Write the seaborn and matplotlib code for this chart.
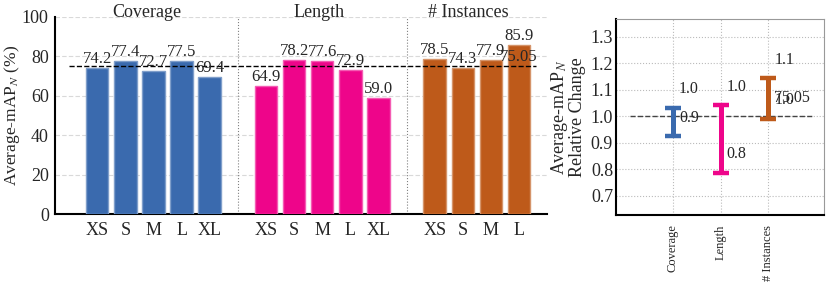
import numpy as np
import pandas as pd
import matplotlib
matplotlib.use("Agg")
import matplotlib.pyplot as plt
import matplotlib.colors as mcolors
import seaborn as sns

# values
groups = ["Coverage", "Length", "# Instances"]
coverage_sizes = ["XS", "S", "M", "L", "XL"]
coverage_vals = [74.2, 77.4, 72.7, 77.5, 69.4]
length_sizes = ["XS", "S", "M", "L", "XL"]
length_vals = [64.9, 78.2, 77.6, 72.9, 59.0]
instance_sizes = ["XS", "S", "M", "L"]
instance_vals = [78.5, 74.3, 77.9, 85.9]
baseline = 75.05

colors = {"Coverage": "#3a6aae", "Length": "#ee058a", "# Instances": "#be5a1a"}


def apply_plot_style():
    sns.set_style("white")
    plt.rcParams['font.family'] = ['Liberation Serif', 'DejaVu Serif']
    plt.rcParams['mathtext.fontset'] = 'stix'
    plt.rcParams['axes.unicode_minus'] = False


def build_frame():
    rows = []
    pos = 0
    for name, sizes, vals in [("Coverage", coverage_sizes, coverage_vals),
                              ("Length", length_sizes, length_vals),
                              ("# Instances", instance_sizes, instance_vals)]:
        for s, v in zip(sizes, vals):
            rows.append({"pos": pos, "size": s, "value": v, "group": name})
            pos += 1
        pos += 1  # gap between groups
    return pd.DataFrame(rows)


def lighten(c, amt=0.35):
    r, g, b = mcolors.to_rgb(c)
    return (r + (1 - r) * amt, g + (1 - g) * amt, b + (1 - b) * amt)


apply_plot_style()
df = build_frame()

fig = plt.figure(figsize=(8.3, 2.82), dpi=100)
ax = fig.add_axes([0.0663, 0.241, 0.593, 0.699])
ax2 = fig.add_axes([0.742, 0.238, 0.251, 0.695])

# ---- left: bars per group ----
sns.barplot(data=df, x="pos", y="value", hue="group", palette=colors,
            native_scale=True, dodge=False, legend=False, saturation=1,
            ax=ax, zorder=3)
for p in ax.patches:
    p.set_edgecolor(lighten(p.get_facecolor()))
    p.set_linewidth(1.0)

for _, r in df.iterrows():
    ax.text(r["pos"], r["value"] + 0.5, f"{r['value']:.1f}", ha="center",
            va="bottom", fontsize=12, zorder=5)

ax.hlines(baseline, -1.0, 15.6, colors="black", linestyles="--", lw=1.0, zorder=4)
ax.text(df["pos"].max(), baseline + 0.8, f"{baseline}", ha="center",
        va="bottom", fontsize=12, zorder=5)

# group separators and titles
group_pos = df.groupby("group", sort=False)["pos"]
seps = [group_pos.max().iloc[0] + 1, group_pos.max().iloc[1] + 1]
for s in seps:
    ax.axvline(s, color="gray", ls=":", lw=0.8, zorder=1)
title_x = [1.75, 7.9, 13.2]
for name, tx in zip(groups, title_x):
    ax.text(tx, 98, name, ha="center", va="bottom", fontsize=13, clip_on=False)

ax.set_xlim(-1.5, 16)
ax.set_ylim(0, 100)
ax.set_yticks([0, 20, 40, 60, 80, 100])
ax.yaxis.grid(True, color="#d9d9d9", ls=(0, (4, 2)), lw=0.8, zorder=0)
ax.set_axisbelow(True)
ax.set_xticks(df["pos"])
ax.set_xticklabels(df["size"])
ax.tick_params(axis="x", length=0, labelsize=13, pad=6)
ax.tick_params(axis="y", direction="out", length=3.5, width=1, labelsize=13, pad=1)
ax.set_xlabel("")
ax.set_ylabel(r"Average-mAP$_N$ (%)", fontsize=12.5)
ax.yaxis.set_label_coords(-0.068, 0.5)
for side in ["top", "right"]:
    ax.spines[side].set_visible(False)
for side in ["left", "bottom"]:
    ax.spines[side].set_color("black")
    ax.spines[side].set_linewidth(1.5)

# ---- right: relative change range per group ----
all_vals = [coverage_vals, length_vals, instance_vals]
rel_lo = [min(v) / baseline for v in all_vals]
rel_hi = [max(v) / baseline for v in all_vals]
xs = np.arange(len(groups))
for i, g in enumerate(groups):
    mid = (rel_lo[i] + rel_hi[i]) / 2
    ax2.errorbar(xs[i], mid, yerr=[[mid - rel_lo[i]], [rel_hi[i] - mid]],
                 fmt="none", ecolor=colors[g], elinewidth=3.6, capsize=5.8,
                 capthick=3.2, zorder=3)
    ax2.text(xs[i] + 0.13, rel_hi[i] + 0.07, f"{rel_hi[i]:.1f}", ha="left",
             va="center", fontsize=11.5)
    ax2.text(xs[i] + 0.13, rel_lo[i] + 0.07, f"{rel_lo[i]:.1f}", ha="left",
             va="center", fontsize=11.5)
ax2.text(xs[-1] + 0.13, 1.07, f"{baseline}", ha="left", va="center", fontsize=11.5)
ax2.axhline(1.0, xmin=0.067, xmax=0.947, color="#444444", ls="--", lw=1.0, zorder=2)

ax2.set_xlim(-1.2, 3.18)
ax2.set_ylim(0.628, 1.368)
ax2.set_yticks(np.round(np.arange(0.7, 1.31, 0.1), 1))
ax2.set_xticks(xs)
ax2.set_xticklabels(groups, rotation=90, fontsize=9)
ax2.grid(True, color="#bbbbbb", ls=":", lw=0.8, zorder=0)
ax2.set_axisbelow(True)
ax2.tick_params(axis="y", direction="in", length=4, width=1, labelsize=13, pad=2)
ax2.tick_params(axis="x", length=0, pad=7)
ax2.set_ylabel("Average-mAP$_N$\nRelative Change", fontsize=13, labelpad=3,
               linespacing=0.95)
for side in ["left", "bottom"]:
    ax2.spines[side].set_color("black")
    ax2.spines[side].set_linewidth(1.5)
for side in ["top", "right"]:
    ax2.spines[side].set_color("#999999")
    ax2.spines[side].set_linewidth(0.8)

fig.savefig("out.png", dpi=100)
